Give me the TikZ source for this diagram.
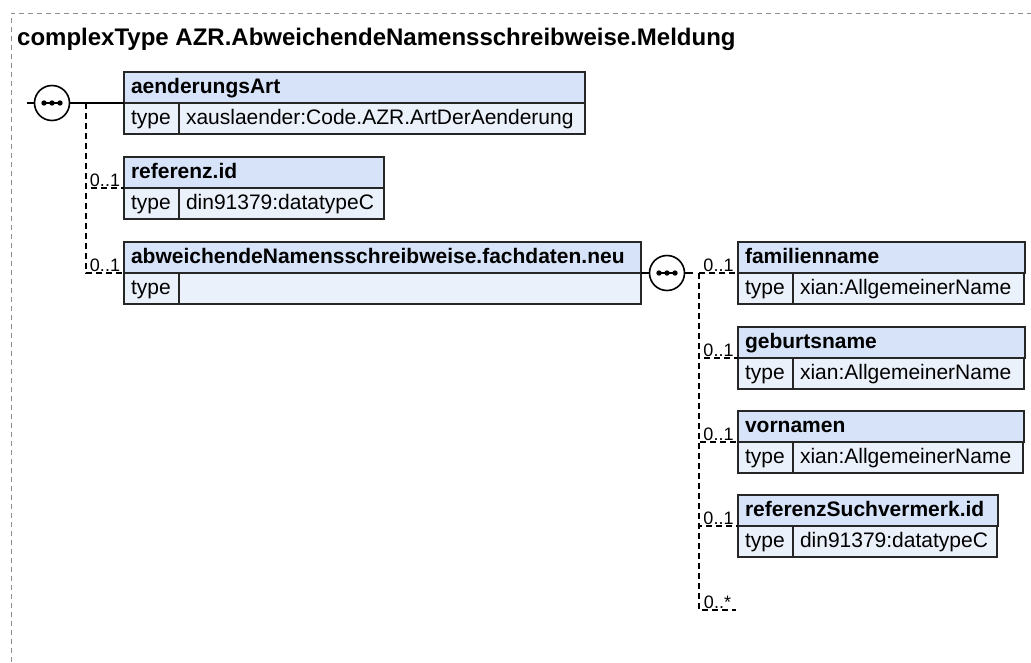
\documentclass[tikz,border=0pt]{standalone}
\usepackage{fontspec}
\setmainfont{Liberation Sans}
\usepackage{xcolor}
\usepackage{tikz}
\usetikzlibrary{positioning,calc}

\definecolor{headblue}{HTML}{D6E3F8}
\definecolor{bodyblue}{HTML}{EBF1FB}
\definecolor{framegray}{HTML}{8C8C8C}

\tikzset{
	head/.style={draw=black!85, line width=1.8pt, fill=headblue, anchor=north west, minimum height=31pt, inner xsep=7pt, inner ysep=0pt, outer sep=0pt, align=left, text height=16pt, text depth=4pt, font=\fontsize{21}{25}\selectfont\bfseries},
	typecell/.style={head, fill=bodyblue, font=\fontsize{21}{25}\selectfont, text width=41pt},
	valcell/.style={typecell},
	seq/.style={draw, circle, fill=white, line width=1.6pt, minimum size=35pt, inner sep=0pt},
	conn/.style={line width=1.5pt},
	opt/.style={line width=1.3pt, dash pattern=on 6pt off 4pt},
	card/.style={font=\fontsize{18}{21}\selectfont, inner sep=1pt},
	frame/.style={draw=framegray, line width=1pt, dash pattern=on 5pt off 4pt}
}

\begin{document}
\begin{tikzpicture}[x=1pt, y=-1pt]
		\useasboundingbox (0,0) rectangle (1031,662);
		% outer frame and title
		\coordinate (fr-bl) at (11,662);
		\coordinate (fr-tr) at (1031,13);
		\draw[frame] (fr-bl) |- (fr-tr);
		\node[anchor=base west, inner sep=0pt, font=\fontsize{24}{28}\selectfont\bfseries] (title) at (17,45) {complexType AZR.AbweichendeNamensschreibweise.Meldung};

		% first sequence
		\node[head, text width=447pt] (art) at (124,72) {aenderungsArt};
		\node[typecell] (art-t) at (art.south west) {type};
		\node[valcell, text width=392pt] (art-v) at (art-t.north east) {xauslaender:Code.AZR.ArtDerAenderung};

		\node[head, text width=246pt] (ref) at (124,157) {referenz.id};
		\node[typecell] (ref-t) at (ref.south west) {type};
		\node[valcell, text width=191pt] (ref-v) at (ref-t.north east) {din91379:datatypeC};

		\node[head, text width=503pt] (abw) at (124,242) {abweichendeNamensschreibweise.fachdaten.neu};
		\node[typecell] (abw-t) at (abw.south west) {type};
		\node[valcell, text width=448pt] (abw-v) at (abw-t.north east) {};

		\coordinate (in1) at (27,103);
		\coordinate (bus1) at (86,103);
		\draw[conn] (in1) -- (art.south west);
		\draw[opt] (bus1) |- (ref.south west) node[pos=0.75, above, card] {0..1};
		\draw[opt] (bus1) |- (abw.south west) node[pos=0.75, above, card] {0..1};
		\node[seq] (seq1) at (52,103) {};
		\draw[conn] ($(seq1)+(-8,0)$) -- ($(seq1)+(8,0)$);
		\foreach \dx in {-8,0,8}
			\fill ($(seq1)+(\dx,0)$) circle (2.7);

		% second sequence
		\node[seq] (seq2) at (667,273) {};
		\draw[conn] ($(seq2)+(-8,0)$) -- ($(seq2)+(8,0)$);
		\foreach \dx in {-8,0,8}
			\fill ($(seq2)+(\dx,0)$) circle (2.7);
		\draw[conn] (abw.south east) -- (seq2.west);

		\node[head, text width=273pt] (fam) at (738,242) {familienname};
		\node[typecell] (fam-t) at (fam.south west) {type};
		\node[valcell, text width=217pt] (fam-v) at (fam-t.north east) {xian:AllgemeinerName};

		\node[head, text width=273pt] (geb) at (738,327) {geburtsname};
		\node[typecell] (geb-t) at (geb.south west) {type};
		\node[valcell, text width=217pt] (geb-v) at (geb-t.north east) {xian:AllgemeinerName};

		\node[head, text width=272pt] (vor) at (738,411) {vornamen};
		\node[typecell] (vor-t) at (vor.south west) {type};
		\node[valcell, text width=216pt] (vor-v) at (vor-t.north east) {xian:AllgemeinerName};

		\node[head, text width=246pt] (rsv) at (738,495) {referenzSuchvermerk.id};
		\node[typecell] (rsv-t) at (rsv.south west) {type};
		\node[valcell, text width=190pt] (rsv-v) at (rsv-t.north east) {din91379:datatypeC};

		\coordinate (bus2) at (693,273);
		\coordinate (bus2a) at (699,273);
		\coordinate (any) at (736,610);
		\draw[conn] (seq2.east) -- (bus2);
		\draw[opt] (bus2a) -- (fam.south west) node[midway, above, card] {0..1};
		\draw[opt] (bus2a) |- (geb.south west) node[pos=0.75, above, card] {0..1};
		\draw[opt] (bus2a) |- (vor.south west) node[pos=0.75, above, card] {0..1};
		\draw[opt] (bus2a) |- (rsv.south west) node[pos=0.75, above, card] {0..1};
		\draw[opt] (bus2a) |- (any) node[pos=0.75, above, card] {0..*};
	\end{tikzpicture}
\end{document}
